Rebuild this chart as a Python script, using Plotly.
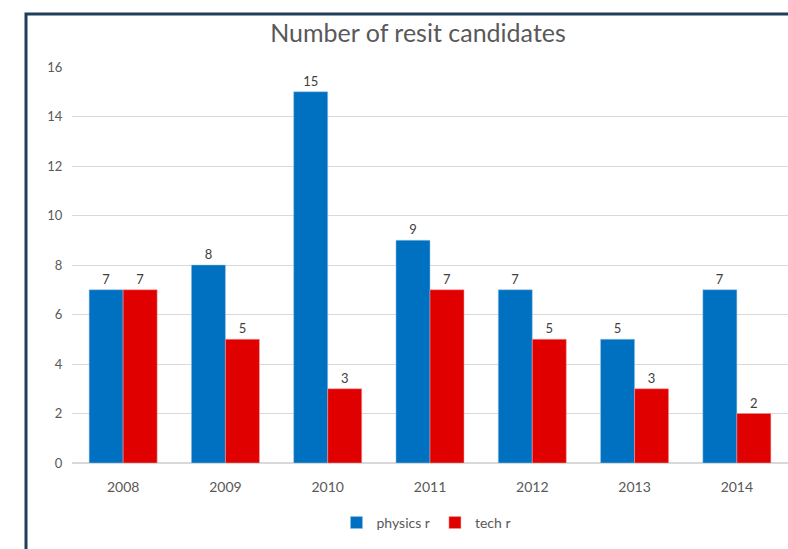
import plotly.graph_objects as go

years = ["2008", "2009", "2010", "2011", "2012", "2013", "2014"]
physics = [7, 8, 15, 9, 7, 5, 7]
tech = [7, 5, 3, 7, 5, 3, 2]
y_ticks = [0, 2, 4, 6, 8, 10, 12, 14, 16]

FONT = "Lato, Carlito, Open Sans, sans-serif"
L, R, T, B = 72, 0, 67, 86
W, H = 788, 549
pw, ph = W - L - R, H - T - B

def px(x):
    return (x - L) / pw

def py(y):
    return (H - B - y) / ph

fig = go.Figure()
fig.add_trace(go.Bar(x=years, y=physics, name="physics r", marker_color="#0070C0",
                     marker_line=dict(color="#9DC3E6", width=0.5),
                     text=physics, textposition="outside",
                     textfont=dict(color="#404040", size=13, family=FONT), cliponaxis=False))
fig.add_trace(go.Bar(x=years, y=tech, name="tech r", marker_color="#E00000",
                     marker_line=dict(color="#F4A0A0", width=0.5),
                     text=tech, textposition="outside",
                     textfont=dict(color="#404040", size=13, family=FONT), cliponaxis=False))

fig.update_layout(
    width=W, height=H,
    margin=dict(l=L, r=R, t=T, b=B),
    paper_bgcolor="white", plot_bgcolor="white",
    barmode="group", bargap=0.335, bargroupgap=0,
    font=dict(family=FONT, color="#595959"),
    title=dict(text="Number of resit candidates", xref="container", x=418 / W, xanchor="center",
               y=1 - 33 / H, yanchor="middle",
               font=dict(size=25, color="#595959", family=FONT)),
    xaxis=dict(showgrid=False, tickfont=dict(size=14, color="#595959"),
               showline=True, linecolor="#D9D9D9", ticks="outside", ticklen=11, tickcolor="rgba(0,0,0,0)"),
    yaxis=dict(range=[0, 16], tickvals=y_ticks, showgrid=True, gridcolor="#D9D9D9",
               zeroline=True, zerolinecolor="#D9D9D9", tickfont=dict(size=13, color="#595959"),
               ticks="outside", ticklen=6, tickcolor="rgba(0,0,0,0)"),
    legend=dict(orientation="h", x=px(426), xanchor="center", y=py(523), yanchor="middle",
                font=dict(size=14, color="#595959"), itemwidth=30, traceorder="normal"),
    shapes=[dict(type="path", xref="paper", yref="paper",
                 path=f"M {px(26)},{py(560)} L {px(26)},{py(14)} L {px(800)},{py(14)}",
                 line=dict(color="#203E5A", width=3))],
)

fig.write_html("out.html")
